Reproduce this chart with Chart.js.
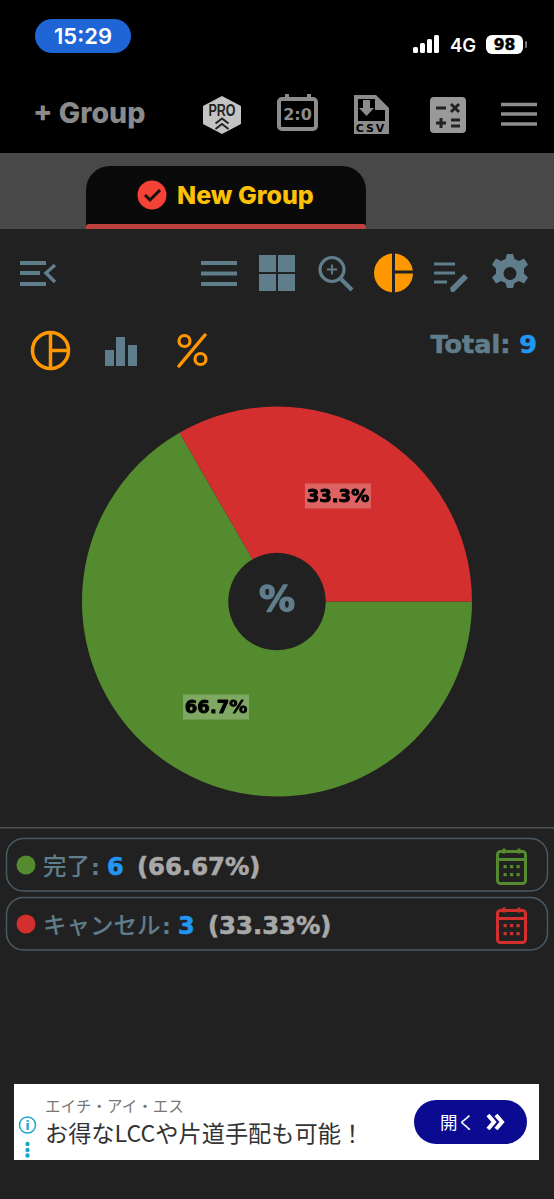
<!DOCTYPE html>
<html><head><meta charset="utf-8">
<style>
html,body{margin:0;padding:0;background:#212121;width:554px;height:1199px;overflow:hidden}
#wrap{position:absolute;left:0;top:401px;width:554px;height:401px}
#ui{position:absolute;left:0;top:0}
text{font-family:"DejaVu Sans",sans-serif}
</style>
<script src="https://cdn.jsdelivr.net/npm/chart.js@4"></script>
</head><body>
<svg id="ui" width="554" height="1199" viewBox="0 0 554 1199" xmlns="http://www.w3.org/2000/svg">
<rect x="0" y="0" width="554" height="153" fill="#000"/>
<rect x="0" y="153" width="554" height="76" fill="#484848"/>
<path d="M86 229V190a24 24 0 0 1 24-24H342a24 24 0 0 1 24 24V229Z" fill="#0a0a0a"/>
<path d="M86 229v-2a3 3 0 0 1 3-3H363a3 3 0 0 1 3 3v2Z" fill="#bd4240"/>
<rect x="35" y="19" width="96" height="34" rx="17" fill="#1f65d6"/>
<text x="83" y="44" text-anchor="middle" style="font-family:Inter;font-weight:600;font-size:22px" fill="#fff">15:29</text>
<g fill="#fff"><rect x="413" y="47" width="5" height="6" rx="1.5"/><rect x="420" y="43" width="5" height="10" rx="1.5"/><rect x="427" y="39" width="5" height="14" rx="1.5"/><rect x="434" y="35" width="5" height="18" rx="1.5"/></g>
<text x="450" y="52" style="font-family:Inter;font-weight:600;font-size:18.500px" fill="#fff">4G</text>
<rect x="486" y="35" width="37" height="19" rx="6" fill="#fff"/>
<rect x="525" y="41" width="2" height="7" rx="1" fill="#777"/>
<text x="504.5" y="50" text-anchor="middle" style="font-weight:700;font-size:15.500px;stroke:#000;stroke-width:.5px" fill="#000">98</text>
<text x="33" y="123" style="font-family:Inter;font-weight:800;font-size:28.500px" fill="#8a8a8a">+ Group</text>
<path d="M222 96L241 106V124L222 134L203 124V106Z" fill="#c4c4c4"/>
<text x="222" y="116" text-anchor="middle" style="font-family:'Liberation Sans';font-weight:700;font-size:16px" fill="#222" textLength="27" lengthAdjust="spacingAndGlyphs">PRO</text>
<path d="M215.500 123.500l6.500-5 6.500 5M215.500 129l6.500-5 6.500 5" stroke="#222" stroke-width="2" fill="none"/>
<rect x="279" y="99" width="37" height="30" rx="3" fill="none" stroke="#8c8c8c" stroke-width="4"/>
<path d="M287 94v7M309 94v7" stroke="#8c8c8c" stroke-width="4"/>
<text x="297.5" y="120" text-anchor="middle" style="font-weight:700;font-size:16px" fill="#8c8c8c">2:0</text>
<path d="M354 95H376L389 108V134H354Z" fill="#8c8c8c"/>
<path d="M358 99H375V110H385V121H358Z" fill="#000"/>
<path d="M363 100h7v8h4l-7.500 8l-7.500-8h4Z" fill="#8c8c8c"/>
<text x="371" y="132" text-anchor="middle" style="font-weight:700;font-size:11px;letter-spacing:2px" fill="#000">CSV</text>
<rect x="430" y="97" width="36" height="36" rx="4" fill="#999"/>
<g stroke="#222" stroke-width="3"><path d="M436 108h10M451 104l8 8M459 104l-8 8M436 123h10M441 118v10M451 120h9M451 126h9"/></g>
<g stroke="#8c8c8c" stroke-width="3.500"><path d="M501 104.500h36M501 114h36M501 124h36"/></g>
<circle cx="152" cy="195" r="14.500" fill="#f44336"/>
<path d="M145 195l5 5 10-10" stroke="#111" stroke-width="3" fill="none"/>
<text x="177" y="204" style="font-family:Inter;font-weight:800;font-size:25px" fill="#ffc107">New Group</text>
<g stroke="#607d8b" stroke-width="4" fill="none">
<path d="M20 263h26M20 273h20M20 284h26"/>
<path d="M55 265l-9 8 9 9" stroke-width="3.500"/>
<path d="M201 263h36M201 273.500h36M201 284h36"/>
<circle cx="332" cy="269.500" r="12" stroke-width="3.200"/><path d="M341 279l11 11"/><path d="M327 269.500h10M332 264.500v10" stroke-width="1.800"/>
<path d="M434 264h21M434 273h21M434 282h13" stroke-width="3"/>
</g>
<g fill="#607d8b">
<rect x="259" y="255" width="17" height="17"/><rect x="278" y="255" width="17" height="17"/><rect x="259" y="274" width="17" height="17"/><rect x="278" y="274" width="17" height="17"/>
<path d="M451 292l-1-4 14-14 4 4-14 14Z"/>
<rect x="105" y="350" width="9" height="16"/><rect x="116" y="337" width="9" height="29"/><rect x="128" y="345" width="9" height="21"/>
</g>
<circle cx="393.500" cy="273" r="19.500" fill="#ff9800"/>
<path d="M393.500 252v42M393.500 272h21" stroke="#212121" stroke-width="3"/>
<path d="M507 254h6l1.500 5 4.500 2 5-2.500 4 6-4 4v5l4 4-4 6-5-2.500-4.500 2-1.500 5h-6l-1.500-5-4.500-2-5 2.500-4-6 4-4v-5l-4-4 4-6 5 2.500 4.500-2Z" fill="#607d8b"/>
<circle cx="510" cy="273.500" r="6.500" fill="#212121"/>
<g stroke="#ff9800" stroke-width="3.500" fill="none"><circle cx="50.500" cy="350.500" r="18"/><path d="M50.500 332v37M50.500 350.500h18"/>
<circle cx="184.500" cy="341" r="5.500" stroke-width="3.200"/><circle cx="200.500" cy="359" r="5.500" stroke-width="3.200"/><path d="M179 366l26-31" stroke-linecap="round"/></g>
<text id="total" x="537" y="353" text-anchor="end" style="font-weight:700;font-size:25.500px;stroke:#607d8b;stroke-width:.6px" fill="#607d8b"></text>
<rect x="0" y="827" width="554" height="1.500" fill="#4b5358"/>
<g id="legend"></g>
<rect x="14" y="1084" width="525" height="76" fill="#fff"/>
<text x="45" y="1112" style="font-family:'Noto Sans CJK JP';font-size:15.500px" fill="#777">エイチ・アイ・エス</text>
<text x="45" y="1142" style="font-family:'Noto Sans CJK JP';font-size:23.200px" fill="#333">お得なLCCや片道手配も可能&#xFF01;</text>
<circle cx="27.500" cy="1125" r="8" fill="none" stroke="#19a8c9" stroke-width="1.500"/>
<text x="27.500" y="1130" text-anchor="middle" style="font-weight:700;font-size:13px" fill="#19a8c9">i</text>
<g fill="#19a8c9"><circle cx="27.500" cy="1144" r="2.200"/><circle cx="27.500" cy="1150" r="2.200"/><circle cx="27.500" cy="1155.500" r="2.200"/></g>
<rect x="414" y="1100" width="113" height="44" rx="22" fill="#0b0b91"/>
<text x="440" y="1129" style="font-family:'Noto Sans CJK JP';font-size:17.500px" fill="#fff">開く</text>
<path d="M488 1115l6 7-6 7M496 1115l6 7-6 7" stroke="#fff" stroke-width="4" fill="none"/>
</svg>
<div id="wrap"><canvas id="c" width="554" height="401"></canvas></div>
<script>
const categories = ["完了", "キャンセル"];
const values = [6, 3];
const sliceColors = ["#558b2f", "#d32f2f"];
const percentLabels = ["66.67%", "33.33%"];
const pieLabels = ["66.7%", "33.3%"];
const centerLabel = "%";
const totalLabel = "Total: ";
const totalValue = 9;

const NS = "http://www.w3.org/2000/svg";
function el(tag, attrs, parent){const e=document.createElementNS(NS,tag);for(const k in attrs)e.setAttribute(k,attrs[k]);parent.appendChild(e);return e;}
const tot=document.getElementById("total");
tot.appendChild(document.createTextNode(totalLabel));
el("tspan",{fill:"#2196f3",style:"stroke:#2196f3"},tot).textContent=totalValue;
const lg=document.getElementById("legend");
const rowTops=[838.5,897.5], colonX=[91,162], numX=[107,178], pctX=[137,208];
categories.forEach((name,i)=>{
  const y=rowTops[i];
  el("rect",{x:6.5,y:y,width:541,height:52.5,rx:17,fill:"none",stroke:"#4a5a63","stroke-width":1.5},lg);
  el("circle",{cx:26,cy:y+26.5,r:9.5,fill:sliceColors[i]},lg);
  const t=el("text",{x:43,y:y+36,fill:"#607d8b",style:"font-family:'Noto Sans CJK JP';font-weight:500;font-size:23.500px"},lg);t.textContent=name;
  const col=el("text",{x:colonX[i],y:y+36,fill:"#607d8b",style:"font-weight:700;font-size:22px"},lg);col.textContent=":";
  const n=el("text",{x:numX[i],y:y+36,fill:"#2196f3",style:"font-weight:700;font-size:24px;stroke:#2196f3;stroke-width:.6px"},lg);n.textContent=values[i];
  const p=el("text",{x:pctX[i],y:y+36,fill:"#a8a8a8",style:"font-weight:700;font-size:24.300px;stroke:#a8a8a8;stroke-width:.6px"},lg);p.textContent="("+percentLabels[i]+")";
  const c=sliceColors[i],cy=y+10;
  el("rect",{x:497.5,y:cy+3,width:28,height:32,rx:3,fill:"none",stroke:c,"stroke-width":3},lg);
  el("path",{d:`M497 ${cy+11}h29M504 ${cy}v5M519 ${cy}v5`,stroke:c,"stroke-width":3,fill:"none"},lg);
  [505,511.5,518].forEach(x=>[cy+18,cy+26].forEach(yy=>el("rect",{x:x-1.5,y:yy-1.5,width:3.2,height:3.2,fill:c},lg)));
});

const sliceLabels={id:"sliceLabels",afterDatasetsDraw(chart){
  const g=chart.ctx,meta=chart.getDatasetMeta(0);
  g.save();g.font='bold 18px "DejaVu Sans"';g.textAlign="center";g.textBaseline="middle";g.lineJoin="round";
  meta.data.forEach((arc,i)=>{
    const p=arc.tooltipPosition();
    const w=66,h=25;
    g.fillStyle="rgba(255,255,255,0.25)";
    g.fillRect(p.x-w/2,p.y-h/2,w,h);
    g.fillStyle="#000";g.strokeStyle="#000";g.lineWidth=0.9;
    g.fillText(pieLabels[i],p.x,p.y+1);
    g.strokeText(pieLabels[i],p.x,p.y+1);
  });
  const a=meta.data[0];
  g.fillStyle="#607d8b";g.strokeStyle="#607d8b";g.lineWidth=1.4;g.font='bold 36px "DejaVu Sans"';
  g.fillText(centerLabel,a.x,a.y);
  g.strokeText(centerLabel,a.x,a.y);
  g.restore();
}};
new Chart(document.getElementById("c"),{
  type:"doughnut",
  data:{labels:categories,datasets:[{data:values,backgroundColor:sliceColors,borderWidth:0}]},
  options:{responsive:false,animation:false,rotation:90,cutout:"25%",radius:195,
    layout:{padding:0},plugins:{legend:{display:false},tooltip:{enabled:false}}},
  plugins:[sliceLabels]
});
</script>
</body></html>
